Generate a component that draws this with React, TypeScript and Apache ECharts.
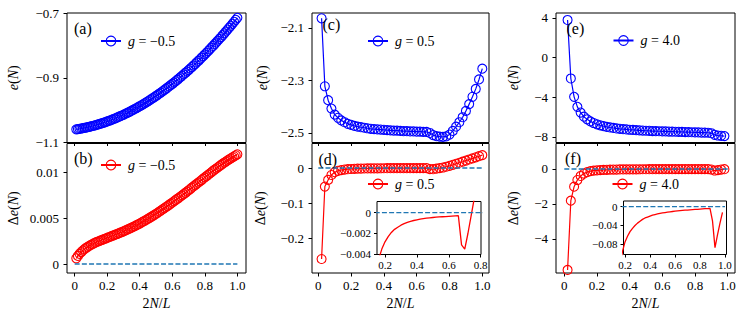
import React, { useEffect, useRef } from "react";
import * as echarts from "echarts";

const FONT = '"Liberation Serif", "Times New Roman", serif';
const BLUE = "#0000ff";
const RED = "#ff0000";
const DASH = "#1f77b4";

// x values (2N/L)
const X_AB = [
  0.01, 0.02, 0.03, 0.04, 0.05, 0.06, 0.07, 0.08, 0.09, 0.1,
  0.11, 0.12, 0.13, 0.14, 0.15, 0.16, 0.17, 0.18, 0.19, 0.2,
  0.21, 0.22, 0.23, 0.24, 0.25, 0.26, 0.27, 0.28, 0.29, 0.3,
  0.31, 0.32, 0.33, 0.34, 0.35, 0.36, 0.37, 0.38, 0.39, 0.4,
  0.41, 0.42, 0.43, 0.44, 0.45, 0.46, 0.47, 0.48, 0.49, 0.5,
  0.51, 0.52, 0.53, 0.54, 0.55, 0.56, 0.57, 0.58, 0.59, 0.6,
  0.61, 0.62, 0.63, 0.64, 0.65, 0.66, 0.67, 0.68, 0.69, 0.7,
  0.71, 0.72, 0.73, 0.74, 0.75, 0.76, 0.77, 0.78, 0.79, 0.8,
  0.81, 0.82, 0.83, 0.84, 0.85, 0.86, 0.87, 0.88, 0.89, 0.9,
  0.91, 0.92, 0.93, 0.94, 0.95, 0.96, 0.97, 0.98, 0.99, 1.0,
];
const X_CD = [
  0.02, 0.04, 0.06, 0.08, 0.1, 0.12, 0.14, 0.16, 0.18, 0.2,
  0.22, 0.24, 0.26, 0.28, 0.3, 0.32, 0.34, 0.36, 0.38, 0.4,
  0.42, 0.44, 0.46, 0.48, 0.5, 0.52, 0.54, 0.56, 0.58, 0.6,
  0.62, 0.64, 0.66, 0.68, 0.7, 0.72, 0.74, 0.76, 0.78, 0.8,
  0.82, 0.84, 0.86, 0.88, 0.9, 0.92, 0.94, 0.96, 0.98, 1.0,
];
const X_EF = [
  0.02, 0.04, 0.06, 0.08, 0.1, 0.12, 0.14, 0.16, 0.18, 0.2,
  0.22, 0.24, 0.26, 0.28, 0.3, 0.32, 0.34, 0.36, 0.38, 0.4,
  0.42, 0.44, 0.46, 0.48, 0.5, 0.52, 0.54, 0.56, 0.58, 0.6,
  0.62, 0.64, 0.66, 0.68, 0.7, 0.72, 0.74, 0.76, 0.78, 0.8,
  0.82, 0.84, 0.86, 0.88, 0.9, 0.92, 0.94, 0.96, 0.98,
];

// (a) e(N), g = -0.5
const E_A = [
  -1.0593, -1.0585, -1.0577, -1.0568, -1.0558, -1.0548, -1.0538, -1.0526, -1.0515, -1.0503,
  -1.049, -1.0476, -1.0463, -1.0448, -1.0433, -1.0418, -1.0402, -1.0385, -1.0368, -1.035,
  -1.0332, -1.0313, -1.0294, -1.0274, -1.0253, -1.0232, -1.0211, -1.0188, -1.0166, -1.0143,
  -1.0119, -1.0094, -1.007, -1.0044, -1.0018, -0.9992, -0.9965, -0.9937, -0.9909, -0.988,
  -0.9851, -0.9821, -0.9791, -0.976, -0.9728, -0.9696, -0.9664, -0.963, -0.9597, -0.9563,
  -0.9528, -0.9492, -0.9457, -0.942, -0.9383, -0.9346, -0.9308, -0.9269, -0.923, -0.919,
  -0.915, -0.9109, -0.9068, -0.9026, -0.8983, -0.894, -0.8897, -0.8852, -0.8808, -0.8763,
  -0.8717, -0.867, -0.8624, -0.8576, -0.8528, -0.848, -0.8431, -0.8381, -0.8331, -0.828,
  -0.8229, -0.8177, -0.8125, -0.8072, -0.8018, -0.7964, -0.791, -0.7854, -0.7799, -0.7743,
  -0.7686, -0.7628, -0.7571, -0.7512, -0.7453, -0.7394, -0.7334, -0.7273, -0.7212, -0.715,
];
// (b) Δe(N), g = -0.5
const DE_B = [
  0.00062, 0.00088, 0.0011, 0.00129, 0.00146, 0.00161, 0.00175, 0.00187, 0.00198, 0.00208,
  0.00217, 0.00226, 0.00234, 0.00242, 0.00249, 0.00256, 0.00263, 0.0027, 0.00277, 0.00284,
  0.00291, 0.00298, 0.00305, 0.00312, 0.00319, 0.00326, 0.00333, 0.0034, 0.00347, 0.00355,
  0.00363, 0.00371, 0.00379, 0.00387, 0.00395, 0.00404, 0.00413, 0.00422, 0.00431, 0.0044,
  0.0045, 0.0046, 0.0047, 0.0048, 0.0049, 0.00501, 0.00512, 0.00523, 0.00534, 0.00545,
  0.00557, 0.00569, 0.00581, 0.00593, 0.00605, 0.00617, 0.00629, 0.00642, 0.00655, 0.00668,
  0.00681, 0.00694, 0.00707, 0.0072, 0.00733, 0.00746, 0.00759, 0.00773, 0.00787, 0.00801,
  0.00815, 0.00829, 0.00843, 0.00857, 0.00871, 0.00885, 0.00899, 0.00913, 0.00927, 0.00941,
  0.00955, 0.00969, 0.00983, 0.00997, 0.01011, 0.01025, 0.01038, 0.01051, 0.01064, 0.01077,
  0.0109, 0.01102, 0.01114, 0.01126, 0.01138, 0.01149, 0.0116, 0.01171, 0.01182, 0.01192,
];
// (c) e(N), g = 0.5
const E_C = [
  -2.063, -2.322, -2.375, -2.407, -2.43, -2.442, -2.452, -2.459, -2.465, -2.469,
  -2.473, -2.476, -2.478, -2.48, -2.482, -2.484, -2.485, -2.486, -2.487, -2.488,
  -2.489, -2.49, -2.491, -2.491, -2.492, -2.493, -2.493, -2.494, -2.494, -2.495,
  -2.495, -2.496, -2.496, -2.5, -2.508, -2.512, -2.514, -2.515, -2.513, -2.506,
  -2.492, -2.476, -2.459, -2.44, -2.416, -2.39, -2.362, -2.332, -2.296, -2.255,
];
// (d) Δe(N), g = 0.5
const DE_D = [
  -0.26, -0.053, -0.034, -0.02, -0.012, -0.008, -0.0058, -0.0045, -0.0035, -0.0028,
  -0.0023, -0.0019, -0.0016, -0.0014, -0.0012, -0.00105, -0.00093, -0.00083, -0.00075, -0.00068,
  -0.00062, -0.00057, -0.00053, -0.00049, -0.00046, -0.00043, -0.00041, -0.00039, -0.00037, -0.00035,
  -0.00033, -0.00031, -0.00029, -0.0031, -0.0035, -0.002, -0.0003, 0.0014, 0.0036, 0.0062,
  0.009, 0.012, 0.015, 0.018, 0.0212, 0.0243, 0.0275, 0.0306, 0.0337, 0.0368,
];
// (e) e(N), g = 4.0
const E_E = [
  3.8, -2.1, -3.95, -4.96, -5.54, -5.95, -6.22, -6.43, -6.59, -6.72,
  -6.82, -6.91, -6.98, -7.04, -7.09, -7.14, -7.18, -7.21, -7.24, -7.27,
  -7.29, -7.31, -7.33, -7.35, -7.37, -7.38, -7.4, -7.41, -7.42, -7.43,
  -7.44, -7.45, -7.46, -7.47, -7.48, -7.49, -7.5, -7.51, -7.52, -7.53,
  -7.54, -7.55, -7.56, -7.57, -7.62, -7.78, -7.85, -7.88, -7.91,
];
// (f) Δe(N), g = 4.0
const DE_F = [
  -5.77, -1.81, -1.01, -0.63, -0.4, -0.26, -0.18, -0.125, -0.095, -0.075,
  -0.063, -0.053, -0.046, -0.04, -0.035, -0.031, -0.027, -0.024, -0.022, -0.02,
  -0.018, -0.0167, -0.0155, -0.0143, -0.0133, -0.0124, -0.0116, -0.0109, -0.0102, -0.0096,
  -0.009, -0.0085, -0.008, -0.0075, -0.0071, -0.0067, -0.0063, -0.0059, -0.0055, -0.0051,
  -0.0047, -0.0043, -0.004, -0.0037, -0.03, -0.087, -0.06, -0.035, -0.012,
];

const ZERO_X = [0, 1];
const ZERO_Y = [0, 0];

const X_TICKS = [0, 0.2, 0.4, 0.6, 0.8, 1.0];
const Y_TICKS_A = [-1.1, -0.9, -0.7];
const Y_TICKS_B = [0, 0.005, 0.01];
const Y_TICKS_C = [-2.5, -2.3, -2.1];
const Y_TICKS_D = [-0.2, -0.1, 0];
const Y_TICKS_E = [-8, -4, 0, 4];
const Y_TICKS_F = [-4, -2, 0];
const INSET_D_X_TICKS = [0.2, 0.4, 0.6, 0.8];
const INSET_D_Y_TICKS = [-0.004, -0.002, 0];
const INSET_F_X_TICKS = [0.2, 0.4, 0.6, 0.8, 1.0];
const INSET_F_Y_TICKS = [-0.08, -0.04, 0];

const G_LABELS: Record<string, string> = {
  A: "\u22120.5",
  B: "\u22120.5",
  C: "0.5",
  D: "0.5",
  E: "4.0",
  F: "4.0",
};
const PANEL_LABELS = ["(a)", "(b)", "(c)", "(d)", "(e)", "(f)"];

const zip = (xs: number[], ys: number[]) => ys.map((y, i) => [xs[i], y]);
const fmtY = (v: number) => String(Number(v.toPrecision(6))).replace("-", "\u2212");
const fmtX = (v: number) => (v === 0 ? "0" : v.toFixed(1));

const grids = [
  { left: 67, top: 13, width: 179, height: 129.5 },
  { left: 67, top: 143.5, width: 179, height: 129.5 },
  { left: 312, top: 13, width: 177, height: 129.5 },
  { left: 312, top: 143.5, width: 177, height: 129.5 },
  { left: 556, top: 13, width: 179, height: 129.5 },
  { left: 556, top: 143.5, width: 179, height: 129.5 },
  { left: 377, top: 201.5, width: 104, height: 53 },
  { left: 623.5, top: 201, width: 103, height: 53.5 },
].map((g, i) => ({
  ...g,
  show: true,
  borderColor: "#000",
  borderWidth: 1,
  backgroundColor: i >= 6 ? "#fff" : "transparent",
  z: i >= 6 ? 5 : 0,
}));

const tickStyle = (vals: number[], len: number, z = 0) => ({
  show: true,
  inside: false,
  length: len,
  customValues: vals,
  lineStyle: { color: "#000", width: 1 },
});

const italicRich = {
  i: { fontStyle: "italic", fontFamily: FONT, fontSize: 14, color: "#000" },
};

function xAxis(
  gridIndex: number,
  min: number,
  max: number,
  ticks: number[],
  showLabels: boolean,
  withName: boolean,
  inset = false
) {
  return {
    type: "value",
    gridIndex,
    min,
    max,
    z: inset ? 6 : 0,
    splitLine: { show: false },
    axisLine: { show: false, onZero: false },
    axisTick: tickStyle(ticks, inset ? 3 : 3.5),
    axisLabel: {
      show: showLabels,
      customValues: ticks,
      formatter: fmtX,
      margin: inset ? 5 : 6,
      fontFamily: FONT,
      fontSize: inset ? 11 : 13,
      color: "#000",
    },
    name: withName ? "2{i|N}/{i|L}" : "",
    nameLocation: "middle",
    nameGap: 23,
    nameTextStyle: { fontFamily: FONT, fontSize: 14, color: "#000", rich: italicRich },
  };
}

function yAxis(
  gridIndex: number,
  min: number,
  max: number,
  ticks: number[],
  name: string,
  nameGap: number,
  inset = false
) {
  return {
    type: "value",
    gridIndex,
    min,
    max,
    z: inset ? 6 : 0,
    splitLine: { show: false },
    axisLine: { show: false, onZero: false },
    axisTick: tickStyle(ticks, inset ? 3 : 3.5),
    axisLabel: {
      show: true,
      customValues: ticks,
      formatter: fmtY,
      margin: inset ? 6 : 8,
      fontFamily: FONT,
      fontSize: inset ? 11 : 13,
      color: "#000",
    },
    name,
    nameLocation: "middle",
    nameGap,
    nameTextStyle: { fontFamily: FONT, fontSize: 14, color: "#000", rich: italicRich },
  };
}

const E_NAME = "{i|e}({i|N})";
const DE_NAME = "\u0394{i|e}({i|N})";

function markerSeries(name: string, idx: number, xs: number[], ys: number[], color: string) {
  return {
    name,
    type: "line",
    xAxisIndex: idx,
    yAxisIndex: idx,
    data: zip(xs, ys),
    symbol: "circle",
    symbolSize: 9,
    showSymbol: true,
    clip: true,
    lineStyle: { color, width: 1.2 },
    itemStyle: { color: "rgba(0,0,0,0)", borderColor: color, borderWidth: 1.1 },
    emphasis: { disabled: true },
    silent: true,
    z: 2,
  };
}

function zeroSeries(idx: number, z = 3) {
  return {
    type: "line",
    xAxisIndex: idx,
    yAxisIndex: idx,
    data: zip(ZERO_X, ZERO_Y),
    symbol: "none",
    clip: true,
    lineStyle: { color: DASH, width: 1.3, type: [5, 2.2] },
    emphasis: { disabled: true },
    silent: true,
    z,
  };
}

function insetSeries(idx: number, xs: number[], ys: number[]) {
  return {
    type: "line",
    xAxisIndex: idx,
    yAxisIndex: idx,
    data: zip(xs, ys),
    symbol: "none",
    clip: true,
    lineStyle: { color: RED, width: 1.3 },
    emphasis: { disabled: true },
    silent: true,
    z: 7,
  };
}

const legendPos: [string, number, number][] = [
  ["A", 100, 40],
  ["B", 100, 164],
  ["C", 367, 40],
  ["D", 367, 183],
  ["E", 612.5, 39.5],
  ["F", 611.5, 183],
];

const legends = legendPos.map(([name, left, cy]) => ({
  data: [name],
  left,
  top: cy - 6,
  padding: 0,
  itemWidth: 20,
  itemHeight: 12,
  selectedMode: false,
  itemStyle: { borderWidth: 1.1 },
  formatter: (n: string) => "{i|g} = " + G_LABELS[n],
  textStyle: {
    fontFamily: FONT,
    fontSize: 14,
    color: "#000",
    padding: [0, 0, 0, 2],
    rich: { i: { fontStyle: "italic", fontFamily: FONT, fontSize: 14, color: "#000" } },
  },
}));

const panelPos: [number, number][] = [
  [74, 28],
  [74, 158],
  [322.5, 24],
  [318.5, 159],
  [566.5, 28],
  [565, 158],
];

const graphics = PANEL_LABELS.map((t, i) => ({
  type: "text",
  x: panelPos[i][0],
  y: panelPos[i][1],
  z: 10,
  silent: true,
  style: {
    text: t,
    fontFamily: FONT,
    fontSize: 16,
    fill: "#000",
    verticalAlign: "middle",
    align: "left",
  },
}));

const option = {
  animation: false,
  backgroundColor: "#fff",
  textStyle: { fontFamily: FONT },
  grid: grids,
  legend: legends,
  graphic: graphics,
  xAxis: [
    xAxis(0, -0.047, 1.053, X_TICKS, false, false),
    xAxis(1, -0.047, 1.053, X_TICKS, true, true),
    xAxis(2, -0.0384, 1.0408, X_TICKS, false, false),
    xAxis(3, -0.0384, 1.0408, X_TICKS, true, true),
    xAxis(4, -0.0508, 1.0447, X_TICKS, false, false),
    xAxis(5, -0.0508, 1.0447, X_TICKS, true, true),
    xAxis(6, 0.1498, 0.802, INSET_D_X_TICKS, true, false, true),
    xAxis(7, 0.1879, 1.0121, INSET_F_X_TICKS, true, false, true),
  ],
  yAxis: [
    yAxis(0, -1.1, -0.7, Y_TICKS_A, E_NAME, 47),
    yAxis(1, -0.000978, 0.013098, Y_TICKS_B, DE_NAME, 47),
    yAxis(2, -2.5362, -2.0429, Y_TICKS_C, E_NAME, 43),
    yAxis(3, -0.3, 0.07, Y_TICKS_D, DE_NAME, 45),
    yAxis(4, -8.555, 4.504, Y_TICKS_E, E_NAME, 36),
    yAxis(5, -5.943, 1.457, Y_TICKS_F, DE_NAME, 36),
    yAxis(6, -0.00402, 0.001077, INSET_D_Y_TICKS, "", 0, true),
    yAxis(7, -0.1017, 0.0121, INSET_F_Y_TICKS, "", 0, true),
  ],
  series: [
    markerSeries("A", 0, X_AB, E_A, BLUE),
    markerSeries("B", 1, X_AB, DE_B, RED),
    zeroSeries(1),
    markerSeries("C", 2, X_CD, E_C, BLUE),
    markerSeries("D", 3, X_CD, DE_D, RED),
    zeroSeries(3),
    markerSeries("E", 4, X_EF, E_E, BLUE),
    markerSeries("F", 5, X_EF, DE_F, RED),
    zeroSeries(5),
    insetSeries(6, X_CD, DE_D),
    zeroSeries(6, 8),
    insetSeries(7, X_EF, DE_F),
    zeroSeries(7, 8),
  ],
};

export default function App() {
  const ref = useRef<HTMLDivElement>(null);
  useEffect(() => {
    if (!ref.current) return;
    const chart = echarts.init(ref.current, null, { renderer: "svg" });
    chart.setOption(option as any);
    return () => chart.dispose();
  }, []);
  return (
    <div
      ref={ref}
      style={{ position: "fixed", left: 0, top: 0, width: 748, height: 322 }}
    />
  );
}
